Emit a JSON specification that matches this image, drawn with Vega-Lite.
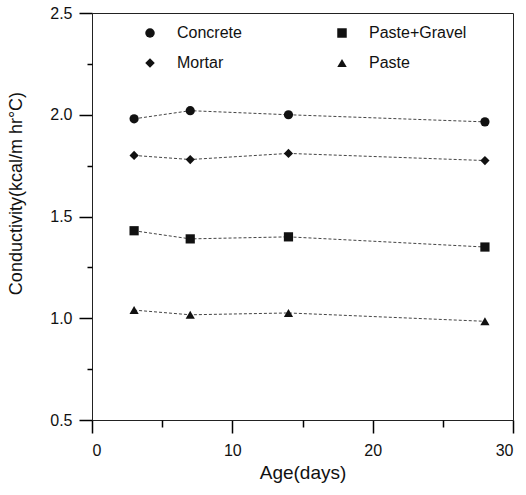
{
  "$schema": "https://vega.github.io/schema/vega-lite/v6.json",
  "width": 421,
  "height": 407,
  "autosize": {"type": "none"},
  "padding": {"left": 92, "top": 13, "right": 13, "bottom": 75},
  "background": "white",
  "config": {
    "font": "Liberation Sans",
    "view": {"stroke": "#222", "strokeWidth": 1},
    "axis": {"grid": false, "domainColor": "#222", "labelColor": "#111", "titleColor": "#111", "labelFont": "Liberation Sans", "titleFont": "Liberation Sans", "titleFontWeight": "normal"}
  },
  "data": {
    "values": [
      {"age": 3, "k": 1.98, "material": "Concrete"},
      {"age": 7, "k": 2.02, "material": "Concrete"},
      {"age": 14, "k": 2.0, "material": "Concrete"},
      {"age": 28, "k": 1.965, "material": "Concrete"},
      {"age": 3, "k": 1.80, "material": "Mortar"},
      {"age": 7, "k": 1.78, "material": "Mortar"},
      {"age": 14, "k": 1.81, "material": "Mortar"},
      {"age": 28, "k": 1.775, "material": "Mortar"},
      {"age": 3, "k": 1.43, "material": "Paste+Gravel"},
      {"age": 7, "k": 1.39, "material": "Paste+Gravel"},
      {"age": 14, "k": 1.40, "material": "Paste+Gravel"},
      {"age": 28, "k": 1.35, "material": "Paste+Gravel"},
      {"age": 3, "k": 1.04, "material": "Paste"},
      {"age": 7, "k": 1.017, "material": "Paste"},
      {"age": 14, "k": 1.026, "material": "Paste"},
      {"age": 28, "k": 0.985, "material": "Paste"}
    ]
  },
  "layer": [
    {
      "mark": {"type": "line", "color": "#444", "strokeWidth": 1, "strokeDash": [3, 2]},
      "encoding": {
        "x": {"field": "age", "type": "quantitative", "scale": {"domain": [0, 30], "nice": false},
          "axis": {"orient": "bottom", "values": [0, 10, 20, 30], "ticks": true, "tickSize": 13, "tickColor": "#000", "tickWidth": 1.5,
            "labelPadding": 9, "labelFontSize": 16, "title": "Age(days)", "titleFontSize": 19, "titlePadding": 5}},
        "y": {"field": "k", "type": "quantitative", "scale": {"domain": [0.5, 2.5], "nice": false, "zero": false},
          "axis": {"orient": "left", "values": [0.5, 1.0, 1.5, 2.0, 2.5], "format": ".1f", "ticks": true, "tickSize": 13, "tickColor": "#000", "tickWidth": 1.5,
            "labelPadding": 7, "labelFontSize": 16, "title": "Conductivity(kcal/m  hr\u00b0C)", "titleFontSize": 18, "titleX": -67, "titleY": 180}},
        "detail": {"field": "material"}
      }
    },
    {
      "mark": {"type": "point", "filled": true, "color": "#111", "opacity": 1},
      "encoding": {
        "x": {"field": "age", "type": "quantitative",
          "axis": {"orient": "bottom", "values": [5, 15, 25], "ticks": true, "tickSize": 7, "tickColor": "#000", "tickWidth": 1.5, "labels": false, "domain": false, "title": null}},
        "y": {"field": "k", "type": "quantitative",
          "axis": {"orient": "left", "values": [0.75, 1.25, 1.75, 2.25], "ticks": true, "tickSize": 5, "tickColor": "#000", "tickWidth": 1.5, "labels": false, "domain": false, "title": null}},
        "shape": {"field": "material", "type": "nominal",
          "scale": {"domain": ["Concrete", "Mortar", "Paste+Gravel", "Paste"], "range": ["circle", "diamond", "square", "triangle-up"]},
          "legend": {"title": null, "orient": "none", "legendX": 50, "legendY": 12, "columns": 2, "columnPadding": 92, "rowPadding": 14, "labelFontSize": 16, "labelOffset": 19, "symbolSize": 90, "symbolFillColor": "#111", "symbolStrokeColor": "#111", "labelColor": "#111"}},
        "size": {"value": 85}
      }
    }
  ],
  "resolve": {"axis": {"x": "independent", "y": "independent"}}
}
